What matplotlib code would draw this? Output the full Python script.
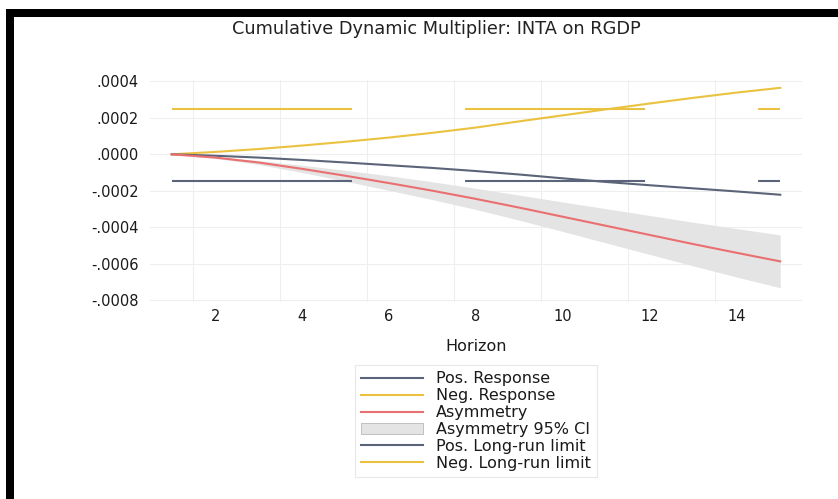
import numpy as np
import matplotlib
matplotlib.use('Agg')
import matplotlib.pyplot as plt
from matplotlib.patches import Rectangle, Patch
from matplotlib.lines import Line2D

# horizons and responses
horizon = [1, 2, 3, 4, 5, 6, 7, 8, 9, 10, 11, 12, 13, 14, 15]
pos_response = [0.0, -0.000008, -0.000018, -0.000031, -0.000045, -0.000060, -0.000075,
                -0.000092, -0.000111, -0.000132, -0.000152, -0.000170, -0.000187,
                -0.000204, -0.000222]
neg_response = [0.0, 0.000013, 0.000029, 0.000048, 0.000069, 0.000092, 0.000118,
                0.000147, 0.000181, 0.000214, 0.000247, 0.000279, 0.000310,
                0.000339, 0.000365]
asymmetry = [0.0, -0.000018, -0.000045, -0.000080, -0.000118, -0.000158, -0.000200,
             -0.000245, -0.000293, -0.000343, -0.000393, -0.000443, -0.000493,
             -0.000541, -0.000588]
ci_lower = [0.0, -0.000022, -0.000056, -0.000100, -0.000148, -0.000198, -0.000249,
            -0.000303, -0.000362, -0.000424, -0.000487, -0.000550, -0.000613,
            -0.000674, -0.000733]
ci_upper = [0.0, -0.000014, -0.000034, -0.000060, -0.000088, -0.000118, -0.000151,
            -0.000187, -0.000224, -0.000262, -0.000299, -0.000336, -0.000373,
            -0.000408, -0.000443]
pos_longrun = -0.000147
neg_longrun = 0.000251

yticks = [0.0004, 0.0002, 0.0, -0.0002, -0.0004, -0.0006, -0.0008]
yticklabels = ['.0004', '.0002', '.0000', '-.0002', '-.0004', '-.0006', '-.0008']
xticks = [2, 4, 6, 8, 10, 12, 14]
legend_labels = ['Pos. Response', 'Neg. Response', 'Asymmetry', 'Asymmetry 95% CI',
                 'Pos. Long-run limit', 'Neg. Long-run limit']

slate = '#5b6478'
gold = '#ebc23f'
salmon = '#ea6f70'
band = '#e4e4e4'

plt.rcParams['font.family'] = 'DejaVu Sans'

fig = plt.figure(figsize=(8.38, 4.99), dpi=100)
ax = fig.add_axes([150/838, 1-302/499, 652/838, 222/499])

lw = 1.5
dash = (0, (129.6/lw, 81.4/lw))

ax.fill_between(horizon, ci_lower, ci_upper, color=band, lw=0, zorder=1)
ax.plot([horizon[0], horizon[-1]], [neg_longrun, neg_longrun], color=gold, lw=lw,
        ls=dash, zorder=2)
ax.plot([horizon[0], horizon[-1]], [pos_longrun, pos_longrun], color=slate, lw=lw,
        ls=dash, zorder=2)
ax.plot(horizon, neg_response, color=gold, lw=lw, zorder=3)
ax.plot(horizon, pos_response, color=slate, lw=lw, zorder=3)
ax.plot(horizon, asymmetry, color=salmon, lw=lw, zorder=4)

ax.set_xlim(0.5, 15.5)
ax.set_ylim(-0.000811, 0.000408)
ax.set_yticks(yticks)
ax.set_yticklabels(yticklabels)
ax.set_xticks(xticks)
ax.set_xticks(np.arange(1.5, 15, 2), minor=True)
ax.tick_params(axis='both', which='both', length=0, labelsize=10.5, colors='#1a1a1a')
ax.tick_params(axis='y', pad=8)
ax.tick_params(axis='x', pad=5)
ax.grid(False)
ax.yaxis.grid(True, color='#eeeeee', lw=0.8)
ax.xaxis.grid(True, which='minor', color='#eeeeee', lw=0.8)
for s in ax.spines.values():
    s.set_visible(False)
ax.set_axisbelow(True)

ax.set_xlabel('Horizon', fontsize=11.5, color='#1a1a1a', labelpad=11)
fig.text(436/838, 1-29/499, 'Cumulative Dynamic Multiplier: INTA on RGDP',
         ha='center', va='center', fontsize=12.8, color='#222222')

handles = [Line2D([], [], color=slate, lw=lw),
           Line2D([], [], color=gold, lw=lw),
           Line2D([], [], color=salmon, lw=lw),
           Patch(facecolor=band, edgecolor='#b8b8b8', lw=0.6),
           Line2D([], [], color=slate, lw=lw),
           Line2D([], [], color=gold, lw=lw)]
leg = fig.legend(handles, legend_labels, loc='upper center',
                 bbox_to_anchor=(476/838, 1-365/499), ncol=1, fontsize=11.5,
                 frameon=True, fancybox=False, handlelength=3.9, handletextpad=0.8,
                 labelspacing=0.12, borderpad=0.4, borderaxespad=0)
leg.get_frame().set_edgecolor('#e2e2e2')
leg.get_frame().set_linewidth(0.8)
for t in leg.get_texts():
    t.set_color('#1a1a1a')

# black frame on top and left edges
fig.patches.append(Rectangle((6/838, 1-17/499), 1, 8/499, transform=fig.transFigure,
                             facecolor='black', edgecolor='none'))
fig.patches.append(Rectangle((6/838, 0), 8/838, 1-9/499, transform=fig.transFigure,
                             facecolor='black', edgecolor='none'))

fig.savefig('out.png', dpi=100)
